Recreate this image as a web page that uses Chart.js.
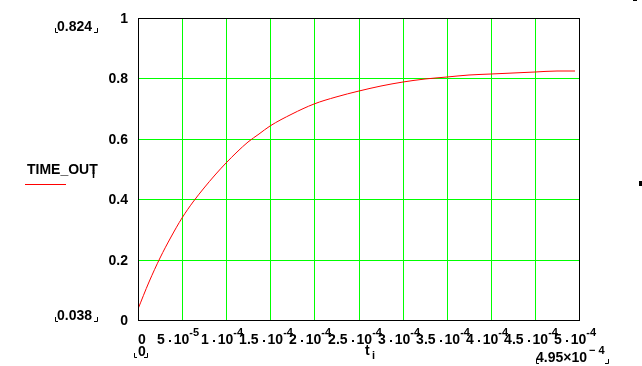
<!DOCTYPE html>
<html>
<head>
<meta charset="utf-8">
<title>TIME_OUT</title>
<script src="https://cdn.jsdelivr.net/npm/chart.js@4.4.1/dist/chart.umd.min.js"></script>
<style>
  html, body { margin: 0; padding: 0; background: #fff; }
  #wrap { width: 642px; height: 366px; }
</style>
</head>
<body>
<div id="wrap"><canvas id="chart" width="642" height="366"></canvas></div>
<script>
// t_i values and the TIME_OUT curve
const tVals = [0, 1.25e-5, 2.5e-5, 3.75e-5, 5e-5, 6.25e-5, 7.5e-5, 8.75e-5, 1e-4, 1.125e-4,
               1.25e-4, 1.375e-4, 1.5e-4, 1.75e-4, 2e-4, 2.25e-4, 2.5e-4, 2.75e-4, 3e-4, 3.25e-4,
               3.5e-4, 3.75e-4, 4e-4, 4.25e-4, 4.5e-4, 4.75e-4, 4.95e-4];
const timeOut = [0.038, 0.125, 0.205, 0.275, 0.337, 0.390, 0.437, 0.480, 0.519, 0.556,
                 0.588, 0.616, 0.642, 0.682, 0.714, 0.739, 0.759, 0.775, 0.788, 0.797,
                 0.804, 0.810, 0.815, 0.818, 0.821, 0.823, 0.824];

// axis ticks
const xTicks = [0, 5e-5, 1e-4, 1.5e-4, 2e-4, 2.5e-4, 3e-4, 3.5e-4, 4e-4, 4.5e-4, 5e-4];
const xMant = ['0', '5', '1', '1.5', '2', '2.5', '3', '3.5', '4', '4.5', '5'];
const xExp = ['', '-5', '-4', '-4', '-4', '-4', '-4', '-4', '-4', '-4', '-4'];
const yTicks = [0, 0.2, 0.4, 0.6, 0.8, 1];
const yLabels = ['0', '0.2', '0.4', '0.6', '0.8', '1'];

const FONT = 'bold 14px "Liberation Sans", Arial, sans-serif';
const SUP = 'bold 11px "Liberation Sans", Arial, sans-serif';

// small corner marks that mathcad puts round the range limits
function brackets(ctx, x1, x2, yb) {
    ctx.beginPath();
    ctx.moveTo(x1 + 0.5, yb - 4); ctx.lineTo(x1 + 0.5, yb + 0.5); ctx.lineTo(x1 + 3, yb + 0.5);
    ctx.moveTo(x2 - 3, yb + 0.5); ctx.lineTo(x2 + 0.5, yb + 0.5); ctx.lineTo(x2 + 0.5, yb - 4);
    ctx.stroke();
}

const decor = {
    id: 'decor',
    afterDraw(chart) {
        const ctx = chart.ctx;
        const xs = chart.scales.x, ys = chart.scales.y;
        const a = chart.chartArea;
        ctx.save();
        ctx.fillStyle = '#000';
        ctx.strokeStyle = '#000';
        ctx.lineWidth = 1;

        // frame
        ctx.strokeRect(Math.round(a.left) + 0.5, Math.round(a.top) + 0.5,
                       Math.round(a.right - a.left), Math.round(a.bottom - a.top));

        // y tick labels
        ctx.font = FONT;
        ctx.textAlign = 'right';
        ctx.textBaseline = 'middle';
        yTicks.forEach((v, i) => {
            ctx.fillText(yLabels[i], a.left - 10, ys.getPixelForValue(v) + 1);
        });

        // x tick labels  m . 10^e
        ctx.textAlign = 'left';
        ctx.textBaseline = 'middle';
        const ly = a.bottom + 20;
        xTicks.forEach((v, i) => {
            const px = xs.getPixelForValue(v);
            if (!xExp[i]) {
                ctx.font = FONT;
                ctx.fillText(xMant[i], px, ly);
                return;
            }
            ctx.font = FONT;
            const wm = ctx.measureText(xMant[i]).width;
            const w10 = ctx.measureText('10').width;
            ctx.font = SUP;
            const we = ctx.measureText(xExp[i]).width;
            const total = wm + 9 + w10 + we;
            let x = px - total / 2 - 4;
            ctx.font = FONT;
            ctx.fillText(xMant[i], x, ly);
            x += wm + 4;
            ctx.fillRect(Math.round(x), ly, 2, 2);
            x += 5;
            ctx.fillText('10', x, ly);
            x += w10;
            ctx.font = SUP;
            ctx.fillText(xExp[i], x, ly - 7);
        });

        // range limits
        ctx.font = FONT;
        ctx.textAlign = 'left';
        ctx.fillText('0.824', 57, 27);
        brackets(ctx, 55, 97, 32);
        ctx.fillText('0.038', 57, 316);
        brackets(ctx, 55, 97, 321);
        ctx.fillText('0', 138, 352);
        brackets(ctx, 134, 147, 357);
        ctx.fillText('4.95\u00d710', 536, 358);
        ctx.font = SUP;
        ctx.fillText('\u2212 4', 589, 351);
        brackets(ctx, 536, 608, 363);

        // axis names
        ctx.font = FONT;
        ctx.fillText('t', 365, 351);
        ctx.font = SUP;
        ctx.fillText('i', 372, 356);
        ctx.font = FONT;
        ctx.fillText('TIME_OUT', 27, 170);
        ctx.font = SUP;
        ctx.fillText('i', 92, 175);

        // legend line
        ctx.strokeStyle = '#ff0000';
        ctx.beginPath();
        ctx.moveTo(25, 184.5); ctx.lineTo(66, 184.5);
        ctx.stroke();

        // stray marks at the right edge
        ctx.fillStyle = '#000';
        ctx.fillRect(639, 181, 3, 5);
        ctx.fillRect(633, 0, 4, 1);
        ctx.restore();
    }
};

new Chart(document.getElementById('chart'), {
    type: 'line',
    data: {
        datasets: [{
            label: 'TIME_OUT',
            data: tVals.map((t, i) => ({ x: t, y: timeOut[i] })),
            borderColor: '#ff0000',
            borderWidth: 1,
            pointRadius: 0,
            cubicInterpolationMode: 'monotone',
            fill: false
        }]
    },
    options: {
        responsive: false,
        animation: false,
        devicePixelRatio: 1,
        layout: { padding: { left: 138, top: 18, right: 63, bottom: 46 } },
        plugins: { legend: { display: false }, tooltip: { enabled: false } },
        scales: {
            x: {
                type: 'linear', min: 0, max: 5e-4,
                alignToPixels: true,
                afterBuildTicks: (s) => { s.ticks = xTicks.map(v => ({ value: v })); },
                ticks: { display: false },
                grid: { color: '#00ff00', lineWidth: 1, drawTicks: false },
                border: { display: false }
            },
            y: {
                type: 'linear', min: 0, max: 1,
                alignToPixels: true,
                afterBuildTicks: (s) => { s.ticks = yTicks.map(v => ({ value: v })); },
                ticks: { display: false },
                grid: { color: '#00ff00', lineWidth: 1, drawTicks: false },
                border: { display: false }
            }
        }
    },
    plugins: [decor]
});
</script>
</body>
</html>
